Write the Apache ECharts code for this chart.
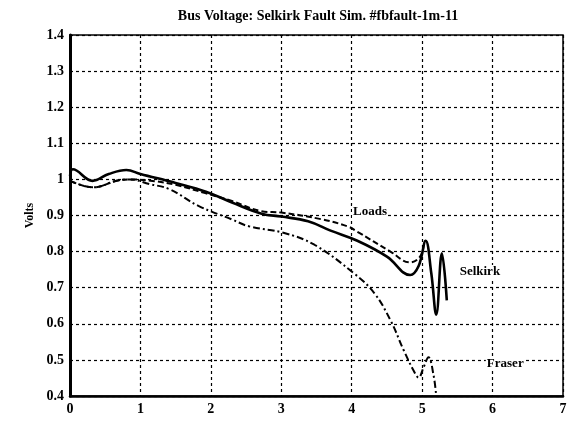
<!DOCTYPE html>
<html>
<head>
<meta charset="utf-8">
<script src="https://cdn.jsdelivr.net/npm/echarts@6/dist/echarts.min.js"></script>
<style>
  html, body { margin: 0; padding: 0; background: #fff; }
  #chart { width: 570px; height: 425px; }
</style>
</head>
<body>
<div id="chart"></div>
<script>
// time (s) / voltage (pu)
var selkirkT = [0, 0.04, 0.32, 0.55, 0.8, 1.0, 1.5, 1.93, 2.3, 2.72, 3.0, 3.38, 3.7, 4.08, 4.5, 4.83, 4.95, 5.05, 5.13, 5.2, 5.28, 5.35];
var selkirkV = [1.01, 1.028, 0.996, 1.015, 1.026, 1.015, 0.99, 0.966, 0.936, 0.905, 0.897, 0.884, 0.858, 0.83, 0.786, 0.735, 0.76, 0.83, 0.74, 0.625, 0.795, 0.665];

var loadsT = [0, 0.33, 0.66, 0.85, 1.2, 1.5, 1.92, 2.3, 2.72, 3.0, 3.56, 3.94, 4.08, 4.55, 4.83, 4.97, 5.02];
var loadsV = [0.996, 0.978, 0.996, 1.0, 0.995, 0.985, 0.962, 0.94, 0.912, 0.908, 0.89, 0.87, 0.855, 0.8, 0.77, 0.786, 0.815];

var fraserT = [0, 0.33, 0.66, 0.85, 1.13, 1.41, 1.83, 2.3, 2.54, 3.03, 3.47, 4.03, 4.32, 4.55, 4.74, 4.88, 4.95, 5.02, 5.09, 5.16, 5.2];
var fraserV = [0.996, 0.978, 0.996, 1.0, 0.987, 0.973, 0.926, 0.889, 0.87, 0.852, 0.819, 0.74, 0.685, 0.61, 0.526, 0.47, 0.451, 0.479, 0.507, 0.46, 0.4];

var xTicks = [0, 1, 2, 3, 4, 5, 6, 7];
var yTicks = [0.4, 0.5, 0.6, 0.7, 0.8, 0.9, 1, 1.1, 1.2, 1.3, 1.4];

// where the curve names sit, [t, volts]
var labelAt = { Selkirk: [5.82, 0.745], Loads: [4.26, 0.91], Fraser: [6.18, 0.49] };

function pairs(t, v) {
  return t.map(function (x, i) { return [x, v[i]]; });
}

var font = 'Liberation Serif';

function nameMark(name) {
  return {
    symbol: 'rect', symbolSize: 0,
    label: {
      show: true, formatter: name, color: '#000', fontFamily: font, fontWeight: 'bold', fontSize: 13,
      backgroundColor: '#fff', padding: [0, 1]
    },
    data: [{ coord: labelAt[name] }]
  };
}

var chart = echarts.init(document.getElementById('chart'));

var option = {
  animation: false,
  backgroundColor: '#fff',
  title: {
    text: 'Bus Voltage: Selkirk Fault Sim. #fbfault-1m-11',
    left: 313,
    textAlign: 'center',
    top: 4,
    textStyle: { fontFamily: font, fontWeight: 'bold', fontSize: 14, color: '#000' }
  },
  grid: {
    left: 70, right: 7, top: 35, bottom: 29,
    show: true, borderColor: '#000', borderWidth: 1.5
  },
  xAxis: {
    type: 'value',
    min: xTicks[0], max: xTicks[xTicks.length - 1], interval: 1,
    axisLine: { lineStyle: { color: '#000', width: 2.5 } },
    axisTick: { show: false },
    axisLabel: { color: '#000', fontFamily: font, fontWeight: 'bold', fontSize: 14, margin: 6 },
    splitLine: { show: true, lineStyle: { color: '#000', type: [3, 3], width: 1.2 } }
  },
  yAxis: {
    type: 'value',
    name: 'Volts',
    nameLocation: 'middle',
    nameGap: 32,
    nameTextStyle: { fontFamily: font, fontWeight: 'bold', fontSize: 12, color: '#000' },
    min: yTicks[0], max: yTicks[yTicks.length - 1], interval: 0.1,
    axisLine: { show: true, lineStyle: { color: '#000', width: 3 } },
    axisTick: { show: false },
    axisLabel: {
      color: '#000', fontFamily: font, fontWeight: 'bold', fontSize: 14, margin: 6,
      formatter: function (v) { return String(Math.round(v * 10) / 10); }
    },
    splitLine: { show: true, lineStyle: { color: '#000', type: [3, 3], width: 1.2 } }
  },
  series: [
    {
      name: 'Selkirk', type: 'line', data: pairs(selkirkT, selkirkV),
      smooth: 0.4, symbol: 'none',
      lineStyle: { color: '#000', width: 2.6 },
      markPoint: nameMark('Selkirk')
    },
    {
      name: 'Loads', type: 'line', data: pairs(loadsT, loadsV),
      smooth: 0.4, symbol: 'none',
      lineStyle: { color: '#000', width: 2, type: [6, 3] },
      markPoint: nameMark('Loads')
    },
    {
      name: 'Fraser', type: 'line', data: pairs(fraserT, fraserV),
      smooth: 0.4, symbol: 'none',
      lineStyle: { color: '#000', width: 2, type: [7, 3, 2, 3] },
      markPoint: nameMark('Fraser')
    }
  ]
};

chart.setOption(option);
window.addEventListener('resize', function () {
  chart.resize();
});
</script>
</body>
</html>
